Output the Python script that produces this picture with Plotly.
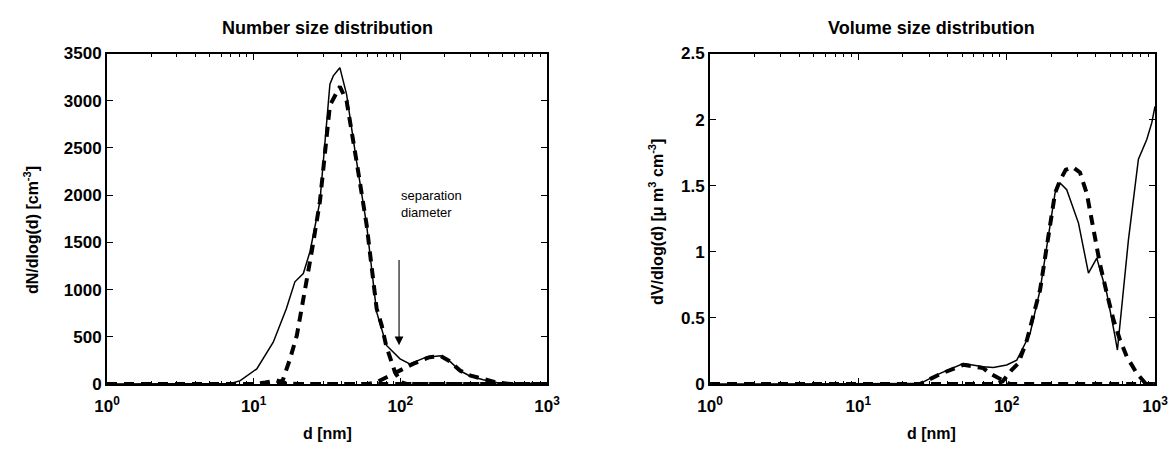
import math
import plotly.graph_objects as go

# ---- Number size distribution (dN/dlog(d), cm^-3) ----
num_d_total = [1, 3, 5, 7, 8.1, 10.5, 13.6, 16.7, 19.1, 21.8, 24.2, 28.3, 33.1, 34.9, 38.7,
               43, 50.3, 58.9, 68.9, 80.5, 99.5, 116, 150, 189, 218, 255, 298, 367, 453, 570, 1000]
num_total = [0, 0, 0, 5, 36, 160, 443, 798, 1082, 1170, 1401, 1933, 3174, 3263, 3350,
             3068, 2358, 1685, 763, 408, 266, 213, 284, 300, 240, 140, 85, 45, 16, 4, 0]

num_d_aitken = [1, 10, 14.5, 15.8, 16.8, 17.7, 19.7, 21.3, 22.9, 25, 28.3, 33.1, 38.7,
                43, 50.3, 58.9, 68.9, 74.6, 80, 92, 101.6, 110, 1000]
num_aitken = [0, 0, 0, 40, 160, 266, 515, 800, 1082, 1420, 1933, 2950, 3150,
              3000, 2358, 1685, 800, 621, 408, 124, 18, 0, 0]

num_d_nucl = [1, 10, 12, 14.3, 16.5, 20, 1000]
num_nucl = [0, 0, 15, 40, 10, 0, 0]

num_d_accum = [1, 60, 69, 80, 99.5, 122, 158, 189, 218, 255, 298, 367, 453, 570, 1000]
num_accum = [0, 0, 18, 70, 142, 213, 284, 295, 240, 142, 92, 50, 15, 0, 0]

# ---- Volume size distribution (dV/dlog(d), um^3 cm^-3) ----
vol_d_total = [1, 26, 35.6, 51, 69.6, 81.3, 100, 117, 137, 144, 168, 186, 212, 229, 254,
               305, 356, 405, 473, 538, 558, 662, 773, 880, 951, 1000]
vol_total = [0, 0.003, 0.08, 0.155, 0.131, 0.125, 0.144, 0.18, 0.333, 0.384, 0.712, 1.04,
             1.445, 1.52, 1.47, 1.217, 0.838, 0.952, 0.687, 0.358, 0.257, 1.09, 1.70, 1.85,
             1.975, 2.10]

vol_d_aitken = [1, 26, 35.6, 51, 69.6, 77, 93, 105, 1000]
vol_aitken = [0, 0, 0.075, 0.145, 0.12, 0.08, 0.03, 0, 0]

vol_d_accum = [1, 85, 94, 108, 120, 137, 168, 186, 212, 229, 250, 280, 312, 347, 375, 425,
               473, 525, 581, 645, 754, 833, 870, 1000]
vol_accum = [0, 0, 0.02, 0.106, 0.157, 0.333, 0.712, 1.04, 1.445, 1.54, 1.62, 1.64, 1.6,
             1.44, 1.24, 0.91, 0.687, 0.485, 0.333, 0.207, 0.081, 0.03, 0, 0]

num_yticks = [0, 500, 1000, 1500, 2000, 2500, 3000, 3500]
vol_yticks = [0, 0.5, 1, 1.5, 2, 2.5]
vol_yticklabels = ["0", "0.5", "1", "1.5", "2", "2.5"]
x_ticks = [1, 10, 100, 1000]
x_ticklabels = ["10<sup>0</sup>", "10<sup>1</sup>", "10<sup>2</sup>", "10<sup>3</sup>"]
x_minor_ticks = [m * 10 ** e for e in range(3) for m in range(2, 10)]

W, H = 1174, 451
FONT = "Liberation Sans, Arial, Helvetica, sans-serif"

fig = go.Figure()

solid = dict(color="black", width=1.5)
dashed = dict(color="black", width=4, dash="10px,7px")

for xs, ys in [(num_d_nucl, num_nucl), (num_d_aitken, num_aitken), (num_d_accum, num_accum)]:
    fig.add_trace(go.Scatter(x=xs, y=ys, mode="lines", line=dashed, xaxis="x", yaxis="y",
                             showlegend=False))
fig.add_trace(go.Scatter(x=num_d_total, y=num_total, mode="lines", line=solid,
                         xaxis="x", yaxis="y", showlegend=False))

for xs, ys in [(vol_d_aitken, vol_aitken), (vol_d_accum, vol_accum)]:
    fig.add_trace(go.Scatter(x=xs, y=ys, mode="lines", line=dashed, xaxis="x2", yaxis="y2",
                             showlegend=False))
fig.add_trace(go.Scatter(x=vol_d_total, y=vol_total, mode="lines", line=solid,
                         xaxis="x2", yaxis="y2", showlegend=False))


def px(x):
    return x / W


def py(y):
    return 1 - y / H


tickfont = dict(family=FONT, size=17, color="black", weight="bold")

common_x = dict(
    type="log", range=[0, 3], tickvals=x_ticks, ticktext=x_ticklabels,
    ticks="inside", ticklen=6, tickwidth=1.2, tickcolor="black",
    showline=True, linecolor="black", linewidth=2, mirror="ticks",
    showgrid=False, zeroline=False, tickfont=tickfont, ticklabelstandoff=6,
    minor=dict(tickmode="array", tickvals=x_minor_ticks, ticks="inside", ticklen=3,
               tickwidth=1, tickcolor="black", showgrid=False),
    automargin=False,
)
common_y = dict(
    ticks="inside", ticklen=6, tickwidth=1.2, tickcolor="black",
    showline=True, linecolor="black", linewidth=2, mirror="ticks",
    showgrid=False, zeroline=False, tickfont=tickfont, automargin=False,
)

ydom = [py(384), py(53.5)]
fig.update_layout(
    width=W, height=H,
    margin=dict(l=0, r=0, t=0, b=0),
    paper_bgcolor="white", plot_bgcolor="white",
    xaxis=dict(domain=[px(107), px(547)], anchor="y", **common_x),
    yaxis=dict(domain=ydom, anchor="x", range=[0, 3500], tickvals=num_yticks, **common_y),
    xaxis2=dict(domain=[px(710), px(1155)], anchor="y2", **common_x),
    yaxis2=dict(domain=ydom, anchor="x2", range=[0, 2.5], tickvals=vol_yticks,
                ticktext=vol_yticklabels, **common_y),
)

title_font = dict(family=FONT, size=18, color="black", weight="bold")
label_font = dict(family=FONT, size=16, color="black", weight="bold")

annotations = [
    dict(text="Number size distribution", x=px(327), y=py(28), font=title_font),
    dict(text="Volume size distribution", x=px(932), y=py(28), font=title_font),
    dict(text="d [nm]", x=px(327), y=py(433), font=label_font),
    dict(text="d [nm]", x=px(932), y=py(433), font=label_font),
    dict(text="dN/dlog(d) [cm<sup>-3</sup>]", x=px(31), y=py(230), textangle=-90,
         font=label_font),
    dict(text="dV/dlog(d) [\u03bc m<sup>3</sup> cm<sup>-3</sup>]", x=px(656), y=py(222),
         textangle=-90, font=label_font),
]
for a in annotations:
    a.update(xref="paper", yref="paper", showarrow=False, xanchor="center", yanchor="middle")

# separation diameter marker
sep_d = 98
annotations.append(dict(
    x=math.log10(sep_d), y=410, xref="x", yref="y",
    ax=math.log10(sep_d), ay=1330, axref="x", ayref="y",
    showarrow=True, arrowhead=2, arrowsize=1.6, arrowwidth=1.1, arrowcolor="black",
    text="", standoff=0, startstandoff=0,
))
annotations.append(dict(
    text="separation<br>diameter", x=px(399), y=py(204), xref="paper", yref="paper",
    showarrow=False, xanchor="left", yanchor="middle", align="left",
    font=dict(family=FONT, size=13, color="black"),
))
fig.update_layout(annotations=annotations)

fig.write_html("out.html")
